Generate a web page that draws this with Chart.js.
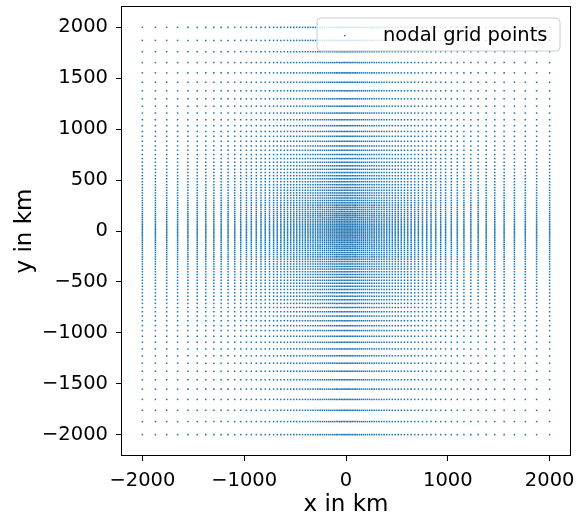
<!DOCTYPE html>
<html>
<head>
<meta charset="utf-8">
<script src="https://cdn.jsdelivr.net/npm/chart.js@4/dist/chart.umd.min.js"></script>
<style>
  html, body { margin: 0; padding: 0; background: #fff; }
  canvas { display: block; }
</style>
</head>
<body>
<canvas id="c" width="576" height="520"></canvas>
<script>
// Nodal coordinates (km); the grid uses the same nodes on both axes
const xNodes = [-2000,-1872,-1761,-1654,-1553,-1461,-1377,-1298,-1226,-1158,-1093,-1034,-978,-930,-881,-835,-793,-751,-711,-675,
  -640,-606,-574,-543,-513,-484,-455,-427,-400,-374,-349,-324,-300,-277,-254,-232,-211,-190,-170,-151,-132,-114,-96,-79,-62,-46,-30,-15,
  0,
  15,30,46,62,79,96,114,132,151,170,190,211,232,254,277,300,324,349,374,400,427,455,484,513,543,574,606,640,
  675,711,751,793,835,881,930,978,1034,1093,1158,1226,1298,1377,1461,1553,1654,1761,1872,2000];
const yNodes = [-2000,-1872,-1761,-1654,-1553,-1461,-1377,-1298,-1226,-1158,-1093,-1034,-978,-930,-881,-835,-793,-751,-711,-675,
  -640,-606,-574,-543,-513,-484,-455,-427,-400,-374,-349,-324,-300,-277,-254,-232,-211,-190,-170,-151,-132,-114,-96,-79,-62,-46,-30,-15,
  0,
  15,30,46,62,79,96,114,132,151,170,190,211,232,254,277,300,324,349,374,400,427,455,484,513,543,574,606,640,
  675,711,751,793,835,881,930,978,1034,1093,1158,1226,1298,1377,1461,1553,1654,1761,1872,2000];
const xTicks = [-2000,-1000,0,1000,2000];
const yTicks = [-2000,-1500,-1000,-500,0,500,1000,1500,2000];
const seriesLabel = 'nodal grid points';
const xTitle = 'x in km';
const yTitle = 'y in km';

const points = [];
for (const y of yNodes) for (const x of xNodes) points.push({x: x, y: y});

const FONT = 'DejaVu Sans';
const fmt = v => String(v).replace('-', '\u2212');

const decor = {
  id: 'decor',
  afterDatasetsDraw(chart) {
    const ctx = chart.ctx, a = chart.chartArea;
    ctx.save();
    // frame
    ctx.strokeStyle = '#000';
    ctx.lineWidth = 1;
    ctx.strokeRect(Math.round(a.left) - 0.5, Math.round(a.top) - 0.5,
      Math.round(a.right) - Math.round(a.left) + 1, Math.round(a.bottom) - Math.round(a.top) + 1);
    // legend
    const lx = 317, ly = 18, lw = 243, lh = 33, r = 4;
    ctx.beginPath();
    ctx.moveTo(lx + r, ly);
    ctx.lineTo(lx + lw - r, ly); ctx.quadraticCurveTo(lx + lw, ly, lx + lw, ly + r);
    ctx.lineTo(lx + lw, ly + lh - r); ctx.quadraticCurveTo(lx + lw, ly + lh, lx + lw - r, ly + lh);
    ctx.lineTo(lx + r, ly + lh); ctx.quadraticCurveTo(lx, ly + lh, lx, ly + lh - r);
    ctx.lineTo(lx, ly + r); ctx.quadraticCurveTo(lx, ly, lx + r, ly);
    ctx.closePath();
    ctx.fillStyle = 'rgba(255,255,255,0.8)';
    ctx.fill();
    ctx.strokeStyle = '#cccccc';
    ctx.stroke();
    ctx.fillStyle = '#1f77b4';
    ctx.fillRect(344, 35, 1.4, 1.4);
    ctx.fillStyle = '#000';
    ctx.font = '19.5px "' + FONT + '"';
    ctx.textAlign = 'left';
    ctx.textBaseline = 'middle';
    ctx.fillText(seriesLabel, 383, 35.5);
    // axis titles
    ctx.font = '23px "' + FONT + '"';
    ctx.textAlign = 'center';
    ctx.textBaseline = 'alphabetic';
    ctx.fillText(xTitle, (a.left + a.right) / 2, 511);
    ctx.translate(31, (a.top + a.bottom) / 2);
    ctx.rotate(-Math.PI / 2);
    ctx.fillText(yTitle, 0, 0);
    ctx.restore();
  }
};

const tickFont = { family: FONT, size: 19.5 };

new Chart(document.getElementById('c'), {
  type: 'scatter',
  data: {
    datasets: [{
      label: seriesLabel,
      data: points,
      pointStyle: 'rect',
      pointRadius: 1.08,
      pointHoverRadius: 1.08,
      borderWidth: 0,
      backgroundColor: '#1f77b4'
    }]
  },
  options: {
    responsive: false,
    animation: false,
    devicePixelRatio: 1,
    events: [],
    layout: { padding: { left: 0, right: 6, top: 7, bottom: 0 } },
    plugins: { legend: { display: false }, tooltip: { enabled: false } },
    scales: {
      x: {
        type: 'linear', min: -2200, max: 2200,
        afterBuildTicks: s => { s.ticks = xTicks.map(v => ({ value: v })); },
        afterFit: s => { s.height = 65; s.paddingLeft = 0; s.paddingRight = 0; },
        grid: { display: true, drawOnChartArea: false, drawTicks: true, tickLength: 6, tickColor: '#000', tickWidth: 1 },
        border: { display: false },
        ticks: { font: tickFont, color: '#000', padding: 8, maxRotation: 0, autoSkip: false, callback: v => fmt(v) }
      },
      y: {
        type: 'linear', min: -2200, max: 2200,
        afterBuildTicks: s => { s.ticks = yTicks.map(v => ({ value: v })); },
        afterFit: s => { s.width = 122; s.paddingTop = 0; s.paddingBottom = 0; },
        grid: { display: true, drawOnChartArea: false, drawTicks: true, tickLength: 6, tickColor: '#000', tickWidth: 1 },
        border: { display: false },
        ticks: { font: tickFont, color: '#000', padding: 8, autoSkip: false, callback: v => fmt(v) }
      }
    }
  },
  plugins: [decor]
});
</script>
</body>
</html>
